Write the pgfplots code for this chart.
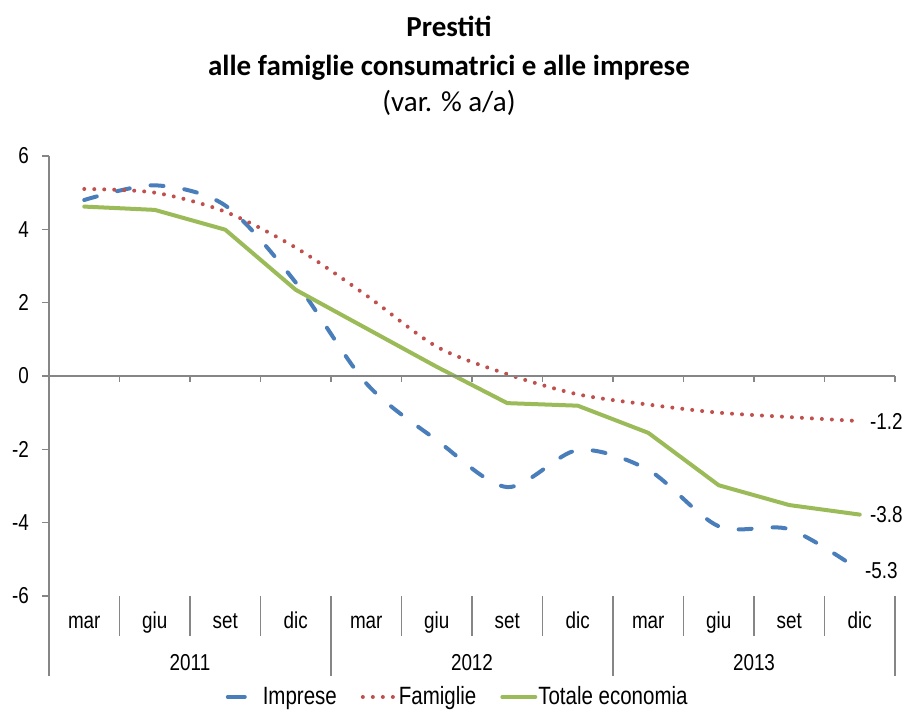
\documentclass[border=0pt]{standalone}
\usepackage{fontspec}
\setmainfont{Carlito}
\newfontfamily\narrow[FakeStretch=0.82]{Liberation Sans}
\usepackage{pgfplots}
\pgfplotsset{compat=1.18}
\usetikzlibrary{calc}

\definecolor{axgray}{RGB}{134,134,134}
\definecolor{cimp}{RGB}{74,126,187}
\definecolor{cfam}{RGB}{192,80,77}
\definecolor{ctot}{RGB}{155,187,89}
\newcommand{\nfont}{\narrow\fontsize{11.5}{13}\selectfont}

\begin{document}
\begin{tikzpicture}
\begin{axis}[
  name=ax,
  scale only axis,
  width=423pt, height=220pt,
  xmin=0, xmax=12, ymin=-6, ymax=6,
  clip=false,
  axis x line=none,
  axis y line*=left,
  y axis line style={axgray, line width=0.75pt},
  ytick={-6,-4,...,6},
  tick align=outside,
  major tick length=3.5pt,
  ytick style={axgray, line width=0.75pt},
  yticklabel style={font=\nfont, xshift=-3pt},
  /pgf/number format/assume math mode=true,
  legend style={at={(axis description cs:0.4825,-0.2295)}, anchor=center,
    draw=none, fill=none, font=\narrow\fontsize{12.5}{14}\selectfont, legend columns=3,
    nodes={inner xsep=0.5pt},
    /tikz/every even column/.append style={column sep=11.5pt}},
  legend image code/.code={\draw[#1] (0.5pt,0pt) -- (17pt,0pt);},
]
% Imprese
\addplot[cimp, line width=2pt, line cap=round, line join=round,
  dash pattern=on 6.5pt off 10.5pt, smooth,
  legend image code/.code={\draw[cimp, solid, line width=2pt, line cap=round] (0.5pt,0pt) -- (9pt,0pt);}]
  coordinates {
  (0.5,4.8) (1.5,5.2) (2.5,4.65) (3.5,2.55) (4.5,-0.2) (5.5,-1.75)
  (6.5,-3.03) (7.5,-2.02) (8.5,-2.56) (9.5,-4.1) (10.5,-4.18) (11.5,-5.3)
};
\addlegendentry{\hspace{7.5pt}Imprese}
% Famiglie
\addplot[cfam, line width=2pt, line cap=round, dash pattern=on 0pt off 5pt, smooth]
  coordinates {
  (0.5,5.1) (1.5,5.0) (2.5,4.48) (3.5,3.5) (4.5,2.2) (5.5,0.8)
  (6.5,0.05) (7.5,-0.5) (8.5,-0.78) (9.5,-1.0) (10.5,-1.12) (11.5,-1.23)
};
\addlegendentry{Famiglie}
% Totale economia
\addplot[ctot, line width=2pt, line join=round, line cap=round]
  coordinates {
  (0.5,4.62) (1.5,4.53) (2.5,3.99) (3.5,2.35) (4.5,1.3) (5.5,0.25)
  (6.5,-0.74) (7.5,-0.81) (8.5,-1.55) (9.5,-2.98) (10.5,-3.52) (11.5,-3.78)
};
\addlegendentry{Totale economia}

% zero line with ticks
\draw[axgray, line width=0.75pt] (axis cs:0,0) -- (axis cs:12,0);
\pgfplotsinvokeforeach{1,...,12}{
  \draw[axgray, line width=0.75pt] (axis cs:#1,0) -- ++(0pt,-3pt);
}
% category separators
\draw[axgray, line width=0.75pt] (axis cs:0,-6) -- ++(0pt,-40pt);
\pgfplotsinvokeforeach{1,2,3,5,6,7,9,10,11}{
  \draw[axgray, line width=0.75pt] (axis cs:#1,-6) -- ++(0pt,-20pt);
}
\pgfplotsinvokeforeach{4,8,12}{
  \draw[axgray, line width=0.75pt] (axis cs:#1,-6) -- ++(0pt,-40pt);
}
% month labels
\pgfplotsinvokeforeach{0,4,8}{
  \node[font=\nfont, anchor=base] at ($(axis cs:#1+0.5,-6)+(0pt,-16.5pt)$) {mar};
  \node[font=\nfont, anchor=base] at ($(axis cs:#1+1.5,-6)+(0pt,-16.5pt)$) {giu};
  \node[font=\nfont, anchor=base] at ($(axis cs:#1+2.5,-6)+(0pt,-16.5pt)$) {set};
  \node[font=\nfont, anchor=base] at ($(axis cs:#1+3.5,-6)+(0pt,-16.5pt)$) {dic};
}
% year labels
\node[font=\nfont, anchor=base] at ($(axis cs:2,-6)+(0pt,-37.5pt)$) {2011};
\node[font=\nfont, anchor=base] at ($(axis cs:6,-6)+(0pt,-37.5pt)$) {2012};
\node[font=\nfont, anchor=base] at ($(axis cs:10,-6)+(0pt,-37.5pt)$) {2013};

% end labels
\node[font=\nfont, anchor=west, inner sep=0pt] at ($(axis cs:11.5,-1.23)+(5pt,0pt)$) {-1.2};
\node[font=\nfont, anchor=west, inner sep=0pt] at ($(axis cs:11.5,-3.78)+(5pt,0pt)$) {-3.8};
\node[font=\nfont, anchor=west, inner sep=0pt] at ($(axis cs:11.5,-5.3)+(2.5pt,0pt)$) {-5.3};

% title
\node[anchor=base, font=\fontsize{14.5}{17}\selectfont\bfseries] at (axis description cs:0.4728,1.2705) {Prestiti};
\node[anchor=base, font=\fontsize{14.5}{17}\selectfont\bfseries] at (axis description cs:0.4728,1.1818) {alle famiglie consumatrici e alle imprese};
\node[anchor=base, font=\fontsize{14.5}{17}\selectfont] at (axis description cs:0.4728,1.1) {(var. \% a/a)};
\end{axis}
\pgfresetboundingbox
\useasboundingbox ($(ax.south west)+(-24.5pt,-57.5pt)$) rectangle ($(ax.north east)+(5pt,78pt)$);
\end{tikzpicture}
\end{document}
